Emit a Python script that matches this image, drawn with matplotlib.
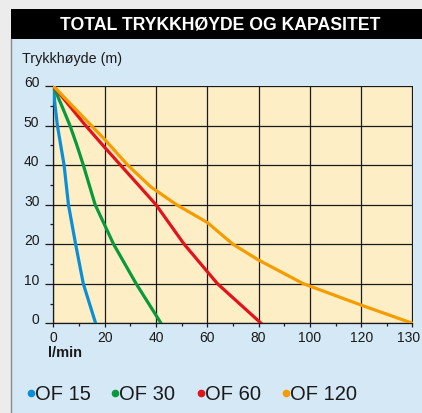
import numpy as np
import matplotlib
matplotlib.use("Agg")
import matplotlib.pyplot as plt
import matplotlib.transforms as mtransforms
from matplotlib.patches import Rectangle
from matplotlib.lines import Line2D

plt.rcParams['font.family'] = ['Liberation Sans', 'DejaVu Sans']

# flow (l/min) and head (m)
of15_x = [0, 0.7, 1.6, 2.9, 4.2, 5.9, 8.7, 11.7, 16.5]
of15_y = [60, 55, 50, 45, 40, 30, 20, 10, 0]
of30_x = [0, 3.3, 6.5, 9.2, 11.7, 16.3, 23.5, 32.3, 42]
of30_y = [60, 55, 50, 45, 40, 30, 20, 10, 0]
of60_x = [0, 12.6, 20, 40, 51, 64, 81]
of60_y = [60, 50, 44.5, 30, 20, 10, 0]
of120_x = [0, 20, 29, 38, 48, 60, 70, 80, 97.5, 110, 120, 130]
of120_y = [60, 46.5, 40, 34.5, 30, 25.5, 20, 16, 10, 7, 4.6, 0]

names = ['OF 15', 'OF 30', 'OF 60', 'OF 120']
colors = ['#0a8fd6', '#08993c', '#e3121b', '#f59d00']

xticks = [0, 20, 40, 60, 80, 100, 120, 130]
yticks = [0, 10, 20, 30, 40, 50, 60]


# last column (120-130) is drawn as wide as the others
def fwd(x):
    x = np.asarray(x, dtype=float)
    return np.where(x <= 120, x, 120 + 2 * (x - 120))


def inv(u):
    u = np.asarray(u, dtype=float)
    return np.where(u <= 120, u, 120 + (u - 120) / 2)


fig = plt.figure(figsize=(4.22, 4.14), dpi=100)
fig.patch.set_facecolor('#ececec')

W, H = 422, 414
fig.add_artist(Rectangle((11 / W, 0), 1, (414 - 40) / H, transform=fig.transFigure,
                         facecolor='#d5e8f6', edgecolor='none', zorder=0))
fig.add_artist(Rectangle((11 / W, (414 - 40) / H), 1, 30 / H, transform=fig.transFigure,
                         facecolor='black', edgecolor='none', zorder=0))
fig.add_artist(Line2D([11 / W, 11 / W], [0, (414 - 40) / H], transform=fig.transFigure,
                      color='#8a8a8a', lw=1))
fig.text(220 / W, 1 - 25 / H, 'TOTAL TRYKKHØYDE OG KAPASITET', color='white',
         fontsize=12.7, fontweight='bold', ha='center', va='center')
fig.text(22 / W, 1 - 59 / H, 'Trykkhøyde (m)', fontsize=10.3,
         ha='left', va='center', color='#1a1a1a')
fig.text(48 / W, 1 - 353 / H, 'l/min', fontsize=10.5, fontweight='bold',
         ha='left', va='center', color='#1a1a1a')

ax = fig.add_axes([53.3 / W, 1 - 324.3 / H, (412.5 - 53.3) / W, (324.3 - 87) / H])
ax.set_facecolor('#fdeec5')
ax.set_xscale('function', functions=(fwd, inv))
ax.set_xlim(0, 130)
ax.set_ylim(0, 60)

for xs, ys, c in zip([of15_x, of30_x, of60_x, of120_x],
                     [of15_y, of30_y, of60_y, of120_y], colors):
    ax.plot(xs, ys, color=c, lw=2.3, solid_joinstyle='round', zorder=3)

ax.set_xticks(xticks)
ax.set_xticklabels([str(v) for v in xticks])
ax.set_xticks([10, 30, 50, 70, 90, 110, 125], minor=True)
ax.set_yticks(yticks)
ax.set_yticks([5, 15, 25, 35, 45, 55], minor=True)
ax.grid(True, which='major', color='#1a1a1a', lw=0.9)
ax.set_axisbelow(True)

for s in ['top', 'right']:
    ax.spines[s].set_visible(False)
for s in ['left', 'bottom']:
    ax.spines[s].set_color('#1a1a1a')
    ax.spines[s].set_linewidth(0.9)

ax.tick_params(axis='y', which='major', length=6, width=0.9, color='#1a1a1a',
               labelsize=10, pad=4, labelcolor='#1a1a1a')
ax.tick_params(axis='y', which='minor', length=2.5, width=0.9, color='#1a1a1a')
ax.tick_params(axis='x', which='major', length=3, width=0.9, color='#1a1a1a',
               labelsize=10, pad=2, labelcolor='#1a1a1a')
ax.tick_params(axis='x', which='minor', length=2.5, width=0.9, color='#1a1a1a')
for lab in ax.get_yticklabels():
    lab.set_va('baseline')

# nudge the last x label a little so it stays inside the picture
shift = mtransforms.ScaledTranslation(-4 / 100, 0, fig.dpi_scale_trans)
for lab in ax.xaxis.get_majorticklabels()[-1:]:
    lab.set_transform(lab.get_transform() + shift)

# legend row
dot_x = [30.7, 115, 201, 285.7]
for name, c, dx in zip(names, colors, dot_x):
    fig.add_artist(Line2D([dx / W], [1 - 394 / H], transform=fig.transFigure,
                          marker='o', markersize=4.5, color=c, lw=0))
    fig.text((dx + 4) / W, 1 - 395 / H, name, fontsize=14.5, ha='left', va='center',
             color='#1a1a1a')

fig.savefig('out.png', dpi=100, facecolor=fig.get_facecolor())
